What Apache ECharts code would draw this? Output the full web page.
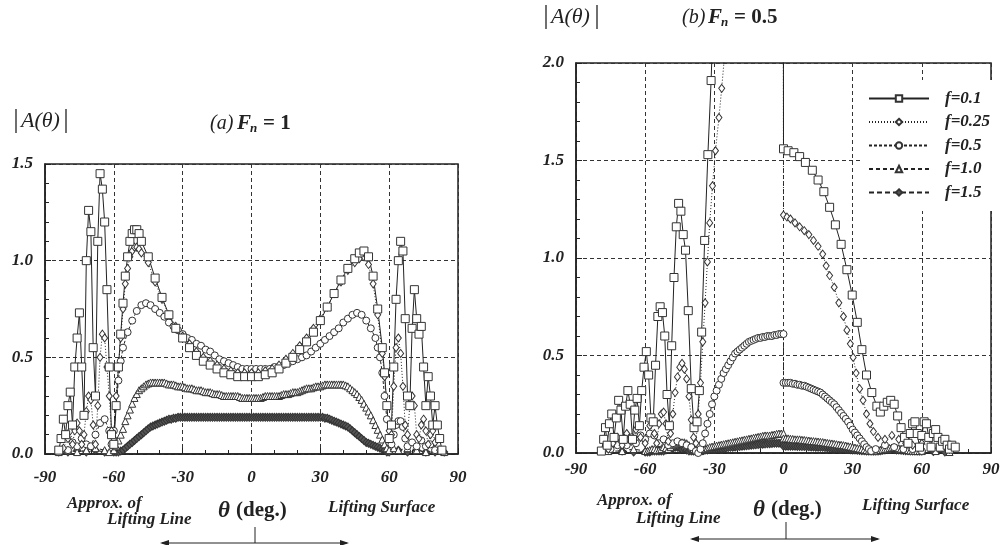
<!DOCTYPE html>
<html>
<head>
<meta charset="utf-8">
<title>|A(θ)| against θ</title>
<script src="https://cdn.jsdelivr.net/npm/echarts@6/dist/echarts.min.js"></script>
<style>
html, body { margin: 0; padding: 0; background: #fff; }
#chart { width: 1003px; height: 545px; }
</style>
</head>
<body>
<div id="chart"></div>
<script>
// tick labels
var thetaTicks = [-90, -60, -30, 0, 30, 60, 90];
var ampTicksA = [0.0, 0.5, 1.0, 1.5];
var ampTicksB = [0.0, 0.5, 1.0, 1.5, 2.0];
var names = ['f=0.1', 'f=0.25', 'f=0.5', 'f=1.0', 'f=1.5'];

// fine theta grids (1 deg) used by the dense f=1.0 / f=1.5 curves
var thetaNeg = [-59,-58,-57,-56,-55,-54,-53,-52,-51,-50,
  -49,-48,-47,-46,-45,-44,-43,-42,-41,-40,
  -39,-38,-37,-36,-35,-34,-33,-32,-31,-30,
  -29,-28,-27,-26,-25,-24,-23,-22,-21,-20,
  -19,-18,-17,-16,-15,-14,-13,-12,-11,-10,
  -9,-8,-7,-6,-5,-4,-3,-2,-1,0];
var thetaPos = [0,1,2,3,4,5,6,7,8,9,
  10,11,12,13,14,15,16,17,18,19,
  20,21,22,23,24,25,26,27,28,29,
  30,31,32,33,34,35,36,37,38,39,
  40,41,42,43,44,45,46,47,48,49,
  50,51,52,53,54,55,56,57,58,59];
var thetaFine = thetaNeg.concat(thetaPos.slice(1));

// ---- (a) Fn = 1 ----
var aTh01 = [-84,-83,-82,-81,-80,-79,-78,-77,-76,-75,
  -74,-73,-72,-71,-70,-69,-68,-67,-66,-65,
  -64,-63,-62,-61,-60,-59,-58,-57,-56,-55,
  -54,-53,-52,-51,-50,-49,-48,-45,-42,-39,
  -36,-33,-30,-27,-24,-21,-18,-15,-12,-9,
  -6,-3,0,3,6,9,12,15,18,21,
  24,27,30,33,36,39,42,45,47,49,
  51,53,55,57,58,59,60,61,62,63,
  64,65,66,67,68,69,70,71,72,73,
  74,75,76,77,78,79,80,81,82,83];
var aVal01 = [0.02,0.08,0.18,0.10,0.25,0.32,0.15,0.45,0.60,0.73,
  0.45,0.20,1.00,1.26,1.15,0.55,0.30,1.10,1.45,1.37,
  1.20,0.85,0.45,0.10,0.05,0.25,0.45,0.62,0.78,0.92,
  1.02,1.10,1.14,1.16,1.16,1.14,1.10,1.02,0.91,0.81,
  0.72,0.65,0.60,0.55,0.51,0.48,0.46,0.44,0.42,0.41,
  0.40,0.40,0.40,0.40,0.41,0.42,0.44,0.47,0.50,0.54,
  0.58,0.63,0.69,0.76,0.83,0.90,0.96,1.01,1.04,1.05,
  1.02,0.92,0.75,0.55,0.42,0.25,0.08,0.15,0.45,0.80,
  1.00,1.10,1.05,0.70,0.30,0.25,0.65,0.85,0.70,0.62,
  0.66,0.45,0.25,0.40,0.30,0.15,0.25,0.15,0.08,0.02];

var aTh025 = [-82,-80,-79,-78,-77,-76,-75,-74,-73,-72,
  -71,-70,-69,-68,-67,-66,-65,-64,-63,-62,
  -61,-60,-59,-58,-57,-56,-55,-54,-53,-52,
  -51,-50,-49,-48,-45,-42,-39,-36,-33,-30,
  -27,-24,-21,-18,-15,-12,-9,-6,-3,0,
  3,6,9,12,15,18,21,24,27,30,
  33,36,39,42,45,47,49,51,53,55,
  57,58,59,60,61,62,63,64,65,66,
  67,68,69,70,71,72,73,74,75,76,
  77,78,79,80,82];
var aVal025 = [0.03,0.08,0.12,0.05,0.12,0.16,0.12,0.05,0.10,0.22,
  0.30,0.28,0.15,0.05,0.25,0.50,0.62,0.60,0.45,0.30,
  0.12,0.08,0.30,0.45,0.60,0.75,0.88,0.96,1.02,1.05,
  1.07,1.07,1.06,1.04,0.99,0.89,0.80,0.72,0.66,0.61,
  0.57,0.53,0.50,0.48,0.46,0.44,0.43,0.42,0.42,0.42,
  0.42,0.43,0.44,0.46,0.49,0.52,0.56,0.60,0.65,0.70,
  0.76,0.83,0.89,0.95,0.99,1.01,1.02,0.98,0.88,0.72,
  0.52,0.40,0.25,0.12,0.10,0.35,0.55,0.60,0.52,0.35,
  0.15,0.10,0.25,0.30,0.25,0.10,0.08,0.15,0.18,0.12,
  0.05,0.10,0.12,0.06,0.02];

var aTh05 = [-80,-78,-76,-74,-72,-70,-68,-66,-64,-62,
  -61,-60,-59,-58,-57,-56,-54,-52,-50,-48,
  -46,-44,-42,-40,-38,-36,-34,-32,-30,-28,
  -26,-24,-22,-20,-18,-16,-14,-12,-10,-8,
  -6,-4,-2,0,2,4,6,8,10,12,
  14,16,18,20,22,24,26,28,30,32,
  34,36,38,40,42,44,46,48,50,52,
  54,55,56,57,58,59,60,61,62,63,
  64,65,66,67,68,70,72,74,76,78,
  80];
var aVal05 = [0.02,0.06,0.04,0.08,0.05,0.04,0.10,0.16,0.18,0.12,
  0.05,0.12,0.25,0.38,0.48,0.55,0.63,0.69,0.74,0.77,
  0.78,0.77,0.75,0.73,0.71,0.68,0.66,0.64,0.62,0.60,
  0.59,0.57,0.56,0.54,0.53,0.51,0.49,0.48,0.47,0.46,
  0.45,0.44,0.44,0.44,0.44,0.44,0.44,0.44,0.45,0.45,
  0.46,0.47,0.48,0.49,0.50,0.51,0.53,0.55,0.57,0.59,
  0.61,0.63,0.65,0.68,0.70,0.72,0.73,0.72,0.69,0.65,
  0.60,0.55,0.50,0.42,0.30,0.18,0.06,0.05,0.10,0.15,
  0.17,0.17,0.14,0.08,0.04,0.06,0.04,0.07,0.04,0.05,
  0.02];

var aTh10 = [-84,-80,-76,-72,-68,-64,-62,-60].concat(thetaFine, [60,62,64,68,72,76,80,84]);
var aVal10 = [0.01,0.02,0.01,0.02,0.03,0.02,0.01,0.02,
  // -59 .. 59
  0.04,0.07,0.10,0.13,0.17,0.20,0.23,0.26,0.29,0.31,
  0.33,0.34,0.35,0.36,0.365,0.37,0.37,0.37,0.37,0.37,
  0.37,0.37,0.365,0.36,0.36,0.36,0.355,0.35,0.35,0.35,
  0.345,0.34,0.34,0.34,0.335,0.33,0.33,0.33,0.325,0.32,
  0.32,0.32,0.315,0.31,0.31,0.31,0.305,0.30,0.30,0.30,
  0.30,0.30,0.30,0.30,0.295,0.29,0.29,0.29,0.29,0.29,
  0.29,0.29,0.29,0.29,0.295,0.30,0.30,0.30,0.30,0.30,
  0.30,0.30,0.305,0.31,0.31,0.31,0.315,0.32,0.32,0.32,
  0.325,0.33,0.335,0.34,0.34,0.34,0.345,0.35,0.35,0.35,
  0.355,0.36,0.36,0.36,0.36,0.36,0.36,0.36,0.36,0.36,
  0.355,0.35,0.34,0.33,0.32,0.31,0.295,0.28,0.26,0.24,
  0.22,0.20,0.175,0.15,0.125,0.10,0.075,0.05,0.03,
  0.02,0.03,0.02,0.03,0.02,0.01,0.02,0.01];

var aTh15 = [-84,-80,-76,-72,-68,-64,-60].concat(thetaFine, [60,64,68,72,76,80,84]);
var aVal15 = [0.01,0.01,0.02,0.01,0.02,0.01,0.01,
  // -59 .. 59
  0.01,0.01,0.015,0.02,0.03,0.04,0.05,0.06,0.07,0.08,
  0.09,0.10,0.11,0.12,0.13,0.14,0.145,0.15,0.155,0.16,
  0.165,0.17,0.175,0.18,0.18,0.185,0.185,0.19,0.19,0.19,
  0.19,0.19,0.19,0.19,0.19,0.19,0.19,0.19,0.19,0.19,
  0.19,0.19,0.19,0.19,0.19,0.19,0.19,0.19,0.19,0.19,
  0.19,0.19,0.19,0.19,0.19,0.19,0.19,0.19,0.19,0.19,
  0.19,0.19,0.19,0.19,0.19,0.19,0.19,0.19,0.19,0.19,
  0.19,0.19,0.19,0.19,0.19,0.19,0.19,0.19,0.19,0.19,
  0.19,0.19,0.19,0.19,0.19,0.19,0.19,0.19,0.19,0.19,
  0.19,0.185,0.185,0.18,0.175,0.17,0.165,0.16,0.155,0.15,
  0.145,0.14,0.13,0.12,0.11,0.10,0.09,0.08,0.07,0.06,
  0.055,0.05,0.045,0.04,0.035,0.03,0.025,0.02,0.01,
  0.01,0.02,0.01,0.02,0.01,0.01,0.01];

// ---- (b) Fn = 0.5 ---- (values above 2.0 run off the top of the plot)
var bTh01 = [-79,-78,-77.2,-76.5,-75.5,-74.5,-73.5,-72.5,-71.5,-70.5,
  -69.5,-68.5,-67.5,-66.5,-65.5,-64.5,-63.5,-62.5,-61.5,-60.5,
  -59.5,-58.5,-57.5,-56.5,-55.5,-54.5,-53.5,-52.5,-51.5,-50.5,
  -49.5,-48.5,-47.5,-46.5,-45.5,-44.5,-43.5,-42.5,-41.3,-40,
  -38.8,-37.5,-36.5,-35.5,-34.2,-32.8,-31.4,-30,-0.3,0,
  2,4.5,7,9.5,12.5,15,17.5,20,22.5,25,
  27.5,29.8,32,34,36,38.3,40.5,42,43.5,45,
  46.5,48,49.5,51,52.5,54,55,56,57,58,
  59,60,61,62,63,64,65,66,67,68,
  69,70,71,72,73,74.5];
var bVal01 = [0.01,0.07,0.13,0.04,0.15,0.20,0.08,0.18,0.27,0.22,
  0.07,0.24,0.32,0.25,0.07,0.22,0.28,0.14,0.32,0.44,
  0.52,0.40,0.18,0.16,0.45,0.70,0.75,0.72,0.60,0.30,
  0.14,0.55,0.90,1.16,1.28,1.24,1.12,1.04,0.73,0.33,
  0.13,0.16,0.32,0.62,1.09,1.53,1.91,2.40,6,1.56,
  1.55,1.54,1.52,1.49,1.45,1.40,1.34,1.26,1.17,1.07,
  0.94,0.81,0.67,0.53,0.40,0.31,0.24,0.21,0.24,0.26,
  0.27,0.25,0.19,0.13,0.08,0.05,0.10,0.15,0.16,0.10,
  0.03,0.09,0.16,0.15,0.08,0.03,0.10,0.12,0.08,0.03,
  0.06,0.07,0.04,0.02,0.04,0.03];

var bTh025 = [-76,-74,-72,-70,-68,-66,-64,-62,-60,-58,
  -56,-55,-54,-53,-52,-51,-50,-49,-48,-47,
  -46,-45,-44,-43,-42,-41,-40,-39,-38,-37,
  -36,-35,-34,-33,-32,-30.8,-29.5,-28,-26.8,-25.5,
  -24,-0.3,0,1.5,3,5,7,9,11,13,
  15,17,18.5,20,22,24,26,27.5,29,30.2,
  31.5,33,34.5,36,37.5,39,41,44,47,50,
  53,56,60,64,68,72];
var bVal025 = [0.02,0.05,0.08,0.04,0.10,0.06,0.12,0.08,0.05,0.14,
  0.10,0.05,0.15,0.20,0.21,0.15,0.06,0.10,0.20,0.31,
  0.39,0.44,0.46,0.43,0.38,0.29,0.17,0.08,0.05,0.20,
  0.36,0.57,0.77,0.98,1.18,1.37,1.55,1.72,1.87,2.05,
  2.30,6,1.22,1.21,1.20,1.18,1.16,1.14,1.12,1.09,
  1.06,1.02,0.96,0.91,0.85,0.77,0.70,0.63,0.56,0.49,
  0.41,0.33,0.27,0.20,0.15,0.11,0.08,0.07,0.09,0.07,
  0.05,0.04,0.05,0.03,0.04,0.02];

var bTh05 = [-75,-72,-70,-68,-66,-64,-62,-60,-58,-56,
  -54,-52,-50,-48,-46,-44,-42,-40,-38,-37,
  -36,-35,-34,-33,-32,-31,-30,-29,-28,-27,
  -26,-25,-24,-23,-22,-21,-20,-19,-18,-17,
  -16,-15,-14,-13,-12,-11,-10,-9,-8,-7,
  -6,-5,-4,-3,-2,-1,0,0,1,2,
  3,4,5,6,7,8,9,10,11,12,
  13,14,15,16,17,18,19,20,21,22,
  23,24,25,26,27,28,29,30,31,32,
  33,34,35,36,37,38,40,44,48,52,
  56,60];
var bVal05 = [0.02,0.04,0.06,0.04,0.08,0.05,0.09,0.07,0.10,0.09,
  0.05,0.07,0.04,0.05,0.06,0.05,0.04,0.03,0.01,0.00,
  0.02,0.05,0.10,0.15,0.20,0.25,0.29,0.32,0.35,0.38,
  0.41,0.43,0.45,0.47,0.49,0.51,0.52,0.53,0.54,0.55,
  0.56,0.57,0.575,0.58,0.585,0.59,0.59,0.595,0.595,0.60,
  0.60,0.60,0.605,0.605,0.61,0.61,0.61,0.36,0.36,0.36,
  0.36,0.355,0.355,0.35,0.35,0.345,0.345,0.34,0.335,0.33,
  0.325,0.32,0.315,0.31,0.30,0.29,0.28,0.27,0.26,0.25,
  0.235,0.22,0.205,0.19,0.175,0.16,0.14,0.12,0.105,0.09,
  0.075,0.06,0.045,0.03,0.02,0.01,0.02,0.04,0.03,0.02,
  0.02,0.01];

var bTh10 = [-76,-70,-65,-60].concat(thetaNeg, thetaPos, [60,66,72]);
var bVal10 = [0.01,0.01,0.02,0.01,
  // -59 .. 0
  0.01,0.015,0.02,0.02,0.015,0.015,0.02,0.03,0.025,0.02,
  0.03,0.04,0.045,0.05,0.055,0.055,0.055,0.05,0.04,0.03,
  0.02,0.01,0.01,0.01,0.015,0.02,0.025,0.03,0.033,0.035,
  0.038,0.04,0.043,0.045,0.048,0.05,0.053,0.055,0.058,0.06,
  0.063,0.065,0.068,0.07,0.073,0.075,0.078,0.08,0.083,0.085,
  0.088,0.09,0.09,0.09,0.093,0.095,0.098,0.10,0.10,0.10,
  // 0 .. 59
  0.075,0.075,0.075,0.073,0.072,0.07,0.07,0.07,0.068,0.067,
  0.065,0.064,0.062,0.061,0.06,0.059,0.057,0.056,0.054,0.052,
  0.05,0.049,0.047,0.045,0.043,0.042,0.04,0.038,0.035,0.033,
  0.03,0.028,0.025,0.023,0.02,0.018,0.015,0.013,0.01,0.01,
  0.01,0.012,0.015,0.018,0.02,0.022,0.025,0.028,0.03,0.028,
  0.025,0.022,0.02,0.018,0.015,0.013,0.012,0.011,0.01,0.01,
  0.01,0.01,0.005];

var bTh15 = [-70,-65,-60].concat(thetaNeg, thetaPos, [60,65,70]);
var bVal15 = [0.01,0.005,0.005,
  // -59 .. 0
  0.005,0.005,0.01,0.01,0.01,0.01,0.01,0.01,0.015,0.02,
  0.02,0.025,0.03,0.03,0.025,0.02,0.02,0.015,0.01,0.01,
  0.01,0.01,0.01,0.012,0.013,0.015,0.016,0.018,0.019,0.02,
  0.021,0.022,0.023,0.025,0.026,0.028,0.029,0.03,0.031,0.032,
  0.033,0.035,0.036,0.037,0.038,0.04,0.041,0.042,0.043,0.044,
  0.045,0.046,0.047,0.048,0.049,0.05,0.05,0.05,0.05,0.05,
  // 0 .. 59
  0.035,0.035,0.035,0.035,0.035,0.035,0.034,0.034,0.033,0.033,
  0.032,0.032,0.031,0.031,0.03,0.03,0.029,0.029,0.028,0.027,
  0.026,0.025,0.024,0.023,0.022,0.021,0.02,0.019,0.018,0.017,
  0.016,0.015,0.014,0.013,0.012,0.011,0.01,0.01,0.01,0.01,
  0.01,0.01,0.012,0.014,0.016,0.018,0.02,0.02,0.018,0.016,
  0.015,0.014,0.013,0.012,0.011,0.01,0.01,0.01,0.01,0.01,
  0.01,0.008,0.005];

var SERIF = 'Liberation Serif';
var INK = '#222';

// marker and line look for each f, same order as names
var looks = [
  { symbol: 'rect', size: 8, line: 'solid', fill: '#fff' },
  { symbol: 'diamond', size: [6, 8], line: [1, 2], fill: '#fff' },
  { symbol: 'circle', size: 7, line: [3, 2], fill: '#fff' },
  { symbol: 'triangle', size: 7, line: [4, 3], fill: '#fff' },
  { symbol: 'diamond', size: [7, 8], line: [5, 3], fill: '#555' }
];

function pairs(th, val) {
  if (th.length !== val.length) console.warn('length mismatch', th.length, val.length);
  var out = [];
  for (var i = 0; i < th.length; i++) out.push([th[i], val[i]]);
  return out;
}

function panelSeries(idx, sets) {
  var list = [];
  // f=1.5 first so f=0.1 ends on top
  for (var k = sets.length - 1; k >= 0; k--) {
    var lk = looks[k];
    list.push({
      name: names[k],
      type: 'line',
      xAxisIndex: idx,
      yAxisIndex: idx,
      data: pairs(sets[k][0], sets[k][1]),
      symbol: lk.symbol,
      symbolSize: lk.size,
      showSymbol: true,
      clip: true,
      lineStyle: { color: INK, width: 1, type: lk.line },
      itemStyle: { color: lk.fill, borderColor: '#333', borderWidth: 1 },
      emphasis: { disabled: true }
    });
  }
  return list;
}

var tickFont = { color: INK, fontFamily: SERIF, fontStyle: 'italic', fontWeight: 'bold', fontSize: 17 };
var dashGrid = { show: true, lineStyle: { color: '#333', width: 1, type: [4, 3] } };

function xAx(idx, margin) {
  return {
    gridIndex: idx, type: 'value',
    min: thetaTicks[0], max: thetaTicks[thetaTicks.length - 1],
    interval: thetaTicks[1] - thetaTicks[0],
    axisLine: { onZero: false, lineStyle: { color: INK, width: 1.5 } },
    axisTick: { inside: true, length: 6, lineStyle: { color: INK } },
    minorTick: { show: true, splitNumber: 3, length: 4, lineStyle: { color: INK } },
    axisLabel: Object.assign({ margin: margin }, tickFont),
    splitLine: dashGrid
  };
}

function yAx(idx, ticks) {
  return {
    gridIndex: idx, type: 'value',
    min: ticks[0], max: ticks[ticks.length - 1],
    interval: ticks[1] - ticks[0],
    axisLine: { onZero: false, lineStyle: { color: INK, width: 1.5 } },
    axisTick: { inside: true, length: 6, lineStyle: { color: INK } },
    minorTick: { show: true, splitNumber: 5, length: 4, lineStyle: { color: INK } },
    axisLabel: Object.assign({ margin: 12, formatter: function (v) { return v.toFixed(1); } }, tickFont),
    splitLine: dashGrid
  };
}

function txt(x, y, text, font) {
  return {
    type: 'text', x: x, y: y, silent: true,
    style: { text: text, font: font, fill: INK, align: 'left', verticalAlign: 'middle',
             textAlign: 'left', textVerticalAlign: 'middle' }
  };
}
function seg(x1, y1, x2, y2, w) {
  return { type: 'line', silent: true, shape: { x1: x1, y1: y1, x2: x2, y2: y2 },
           style: { stroke: INK, lineWidth: w || 1 } };
}
function head(pts) {
  return { type: 'polygon', silent: true, shape: { points: pts }, style: { fill: INK } };
}

var bi17 = 'italic bold 17px ' + SERIF;
var graphics = [
  // (a) titles
  seg(16, 109, 16, 133, 1.3), seg(66, 109, 66, 133, 1.3),
  txt(21, 121, 'A(θ)', 'italic 22px ' + SERIF),
  txt(210, 124, '(a)', 'italic 20px ' + SERIF),
  txt(237, 124, 'F', 'italic bold 21px ' + SERIF),
  txt(250, 129, 'n', 'italic bold 13px ' + SERIF),
  txt(263, 124, '= 1', 'bold 21px ' + SERIF),
  // (b) titles
  seg(546, 5, 546, 29, 1.3), seg(597, 5, 597, 29, 1.3),
  txt(551, 17, 'A(θ)', 'italic 22px ' + SERIF),
  txt(682, 18, '(b)', 'italic 20px ' + SERIF),
  txt(708, 18, 'F', 'italic bold 21px ' + SERIF),
  txt(721, 23, 'n', 'italic bold 13px ' + SERIF),
  txt(734, 18, '= 0.5', 'bold 21px ' + SERIF),
  // (a) bottom notes
  txt(67, 504, 'Approx. of', bi17),
  txt(107, 520, 'Lifting Line', bi17),
  txt(218, 511, 'θ', 'italic bold 23px ' + SERIF),
  txt(236, 511, '(deg.)', 'bold 21px ' + SERIF),
  txt(328, 508, 'Lifting Surface', bi17),
  seg(255, 527, 255, 543), seg(162, 543, 347, 543),
  head([[160, 543], [169, 540], [169, 546]]),
  head([[349, 543], [340, 540], [340, 546]]),
  // (b) bottom notes
  txt(597, 501, 'Approx. of', bi17),
  txt(636, 519, 'Lifting Line', bi17),
  txt(753, 510, 'θ', 'italic bold 23px ' + SERIF),
  txt(771, 510, '(deg.)', 'bold 21px ' + SERIF),
  txt(862, 506, 'Lifting Surface', bi17),
  seg(786, 522, 786, 539), seg(692, 539, 878, 539),
  head([[690, 539], [699, 536], [699, 542]]),
  head([[880, 539], [871, 536], [871, 542]])
];

var chart = echarts.init(document.getElementById('chart'), null, { renderer: 'canvas' });
var option = {
  animation: false,
  backgroundColor: '#fff',
  grid: [
    { left: 45, top: 164, width: 413, height: 290, show: true, borderColor: INK, borderWidth: 1.5 },
    { left: 576, top: 63, width: 415, height: 390, show: true, borderColor: INK, borderWidth: 1.5 }
  ],
  xAxis: [xAx(0, 15), xAx(1, 8)],
  yAxis: [yAx(0, ampTicksA), yAx(1, ampTicksB)],
  legend: {
    data: names,
    orient: 'vertical',
    left: 862, top: 80,
    padding: [10, 8, 10, 6],
    itemWidth: 60, itemHeight: 8, itemGap: 6.5,
    backgroundColor: '#fff',
    selectedMode: false,
    textStyle: { color: INK, fontFamily: SERIF, fontStyle: 'italic', fontWeight: 'bold',
                 fontSize: 17, lineHeight: 17, padding: [0, 0, 0, 11] }
  },
  graphic: graphics,
  series: panelSeries(0, [[aTh01, aVal01], [aTh025, aVal025], [aTh05, aVal05], [aTh10, aVal10], [aTh15, aVal15]])
    .concat(panelSeries(1, [[bTh01, bVal01], [bTh025, bVal025], [bTh05, bVal05], [bTh10, bVal10], [bTh15, bVal15]]))
};
chart.setOption(option);
</script>
</body>
</html>
